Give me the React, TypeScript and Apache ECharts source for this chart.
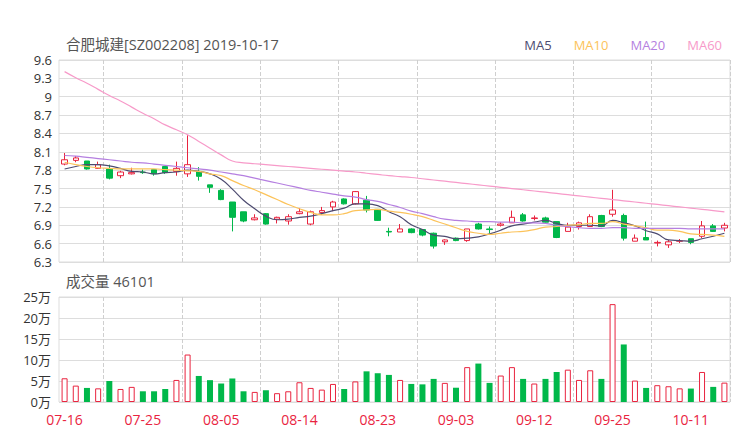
import React, { useEffect, useRef } from "react";
import * as echarts from "echarts";

const dates = [
  "07-16","07-17","07-18","07-19","07-22","07-23","07-24","07-25","07-26","07-29","07-30","07-31",
  "08-01","08-02","08-05","08-06","08-07","08-08","08-09","08-12","08-13","08-14","08-15","08-16",
  "08-19","08-20","08-21","08-22","08-23","08-26","08-27","08-28","08-29","08-30",
  "09-02","09-03","09-04","09-05","09-06","09-09","09-10","09-11","09-12","09-17","09-18","09-19",
  "09-20","09-23","09-24","09-25","09-26","09-27","09-30",
  "10-08","10-09","10-10","10-11","10-15","10-16","10-17",
];

const opens = [
  7.90,7.96,7.95,7.83,7.82,7.71,7.74,7.77,7.81,7.86,7.78,7.74,7.78,7.56,7.47,7.28,7.12,6.99,7.09,7.00,
  6.97,7.09,6.92,7.11,7.20,7.33,7.25,7.31,7.16,6.80,6.79,6.84,6.83,6.77,6.63,6.69,6.65,6.92,6.84,6.90,
  6.94,7.07,7.01,7.02,6.96,6.80,6.88,6.88,7.06,7.08,7.06,6.64,6.70,6.61,6.58,6.64,6.68,6.72,6.89,6.855,
];
const closes = [
  7.97,8.00,7.82,7.89,7.67,7.77,7.76,7.76,7.74,7.76,7.83,7.89,7.70,7.52,7.32,7.03,6.97,7.02,6.92,7.03,
  7.04,7.12,7.12,7.14,7.28,7.25,7.45,7.15,6.98,6.79,6.84,6.78,6.74,6.56,6.66,6.65,6.84,6.84,6.83,6.92,
  7.03,6.97,7.02,6.95,6.70,6.87,6.94,7.04,6.88,7.15,6.69,6.69,6.66,6.62,6.63,6.645,6.62,6.89,6.80,6.90,
];
const lows = [
  7.88,7.93,7.81,7.82,7.65,7.67,7.73,7.74,7.71,7.74,7.71,7.69,7.63,7.43,7.31,6.80,6.95,6.98,6.91,6.93,
  6.91,7.08,6.90,7.07,7.13,7.24,7.24,7.11,6.97,6.72,6.79,6.77,6.72,6.52,6.58,6.64,6.63,6.83,6.77,6.88,
  6.94,6.96,6.98,6.94,6.69,6.80,6.83,6.88,6.87,7.04,6.65,6.64,6.66,6.555,6.53,6.61,6.59,6.69,6.79,6.80,
];
const highs = [
  8.08,8.03,7.95,7.94,7.89,7.79,7.84,7.81,7.82,7.87,7.94,8.37,7.85,7.56,7.49,7.28,7.12,7.08,7.10,7.04,
  7.08,7.18,7.14,7.20,7.30,7.34,7.46,7.38,7.16,6.86,6.92,6.85,6.83,6.78,6.67,6.70,6.84,6.94,6.88,6.95,
  7.14,7.10,7.06,7.04,6.96,6.94,6.96,7.08,7.07,7.48,7.09,6.75,6.96,6.65,6.66,6.675,6.68,6.97,6.92,6.94,
];

const volumes = [
  56500,39000,33500,32500,50000,31000,36000,25500,25500,31000,52500,113000,62000,52000,44000,56000,
  25500,24000,28000,21000,25500,47000,33500,29500,43000,31000,49000,73000,68500,64500,52500,43000,
  42000,55000,45500,34000,83000,91500,45500,63000,83000,55000,44000,55000,71500,77000,52500,75500,
  55000,233000,137000,51000,33500,40000,37500,32500,32000,71500,36000,46101,
];

const ma5 = [
  7.82,7.86,7.89,7.89,7.87,7.83,7.78,7.77,7.74,7.76,7.77,7.80,7.78,7.74,7.65,7.49,7.31,7.17,7.05,6.99,
  7.00,7.03,7.05,7.09,7.14,7.18,7.25,7.25,7.22,7.12,7.04,6.91,6.83,6.74,6.72,6.68,6.69,6.71,6.76,6.82,
  6.89,6.92,6.95,6.98,6.93,6.90,6.90,6.90,6.89,6.98,6.94,6.89,6.81,6.76,6.66,6.65,6.64,6.68,6.72,6.77,
];
const ma10 = [
  7.93,7.89,7.86,7.84,7.83,7.82,7.82,7.82,7.82,7.81,7.80,7.79,7.78,7.74,7.71,7.63,7.55,7.48,7.40,7.32,
  7.24,7.17,7.11,7.07,7.07,7.09,7.14,7.15,7.16,7.13,7.11,7.08,7.04,6.98,6.92,6.86,6.80,6.77,6.75,6.77,
  6.79,6.80,6.83,6.87,6.88,6.90,6.91,6.93,6.93,6.96,6.92,6.89,6.86,6.82,6.82,6.80,6.76,6.75,6.74,6.72,
];
const ma20 = [
  8.04,8.03,8.01,7.99,7.97,7.95,7.93,7.92,7.90,7.88,7.86,7.84,7.82,7.80,7.77,7.74,7.71,7.67,7.63,7.59,
  7.55,7.51,7.47,7.44,7.41,7.38,7.36,7.32,7.29,7.24,7.19,7.13,7.09,7.04,7.00,6.98,6.97,6.96,6.96,6.95,
  6.95,6.94,6.94,6.93,6.90,6.88,6.86,6.85,6.85,6.86,6.86,6.85,6.85,6.85,6.85,6.85,6.84,6.84,6.84,6.84,
];
const ma60 = [
  9.41,9.31,9.22,9.12,9.02,8.93,8.83,8.73,8.64,8.54,8.46,8.38,8.27,8.16,8.05,7.95,7.92,7.905,7.89,7.875,
  7.86,7.845,7.83,7.815,7.80,7.785,7.77,7.75,7.73,7.71,7.695,7.68,7.66,7.64,7.62,7.60,7.58,7.56,7.54,7.52,
  7.50,7.48,7.46,7.44,7.42,7.40,7.38,7.36,7.34,7.32,7.30,7.28,7.26,7.24,7.22,7.20,7.18,7.16,7.14,7.12,
];

const maNames = ["MA5", "MA10", "MA20", "MA60"];
const maColors = ["#4d4b70", "#fcc35a", "#b57fe0", "#f79ac9"];
const maData = [ma5, ma10, ma20, ma60];

const RED = "#e9243f";
const GREEN = "#00b84a";
const FONT = "'Open Sans', 'Noto Sans CJK SC', sans-serif";

export default function App() {
  const ref = useRef<HTMLDivElement>(null);
  useEffect(() => {
    if (!ref.current) return;
    const chart = echarts.init(ref.current, undefined, { renderer: "svg" });
    const candleData = opens.map((o, i) => [o, closes[i], lows[i], highs[i]]);
    const volData = volumes.map((v, i) => {
      const up = closes[i] >= opens[i];
      return {
        value: v,
        itemStyle: up
          ? { color: "#fff", borderColor: RED, borderWidth: 1 }
          : { color: GREEN, borderColor: GREEN, borderWidth: 0 },
      };
    });
    const splitX = {
      show: true,
      interval: (i: number) => i % 7 === 4,
      lineStyle: { type: "dashed", color: "#cfcfcf", width: 1 },
    };
    const option: any = {
      animation: false,
      backgroundColor: "#fff",
      textStyle: { fontFamily: FONT },
      title: [
        {
          text: "合肥城建[SZ002208] 2019-10-17",
          left: 66,
          top: 37,
          padding: 0,
          textStyle: { fontSize: 14.5, fontWeight: "normal", color: "#555", fontFamily: FONT },
        },
        {
          text: "成交量 " + volumes[volumes.length - 1],
          left: 66,
          top: 274,
          padding: 0,
          textStyle: { fontSize: 14.5, fontWeight: "normal", color: "#555", fontFamily: FONT },
        },
      ],
      legend: {
        top: 38,
        right: 18,
        icon: "none",
        itemWidth: 0,
        itemHeight: 0,
        itemGap: 17,
        padding: 0,
        selectedMode: false,
        textStyle: { fontSize: 13, fontFamily: FONT },
        data: maNames.map((n, i) => ({ name: n, textStyle: { color: maColors[i] } })),
      },
      grid: [
        { left: 59, right: 10, top: 60, height: 202, show: true, borderColor: "#ddd", borderWidth: 1 },
        { left: 59, right: 10, top: 297, height: 105, show: true, borderColor: "#ddd", borderWidth: 1 },
      ],
      xAxis: [
        {
          type: "category",
          gridIndex: 0,
          data: dates,
          boundaryGap: true,
          axisLine: { show: false },
          axisTick: { show: false },
          axisLabel: { show: false },
          splitLine: splitX,
        },
        {
          type: "category",
          gridIndex: 1,
          data: dates,
          boundaryGap: true,
          axisLine: { show: false },
          axisTick: { show: false },
          axisLabel: { interval: 6, color: RED, fontSize: 14, margin: 10, fontFamily: FONT },
          splitLine: splitX,
        },
      ],
      yAxis: [
        {
          type: "value",
          gridIndex: 0,
          min: 6.3,
          max: 9.6,
          interval: 0.3,
          axisLine: { show: false },
          axisTick: { show: false },
          axisLabel: { color: "#333", fontSize: 13, margin: 7, fontFamily: FONT },
          splitLine: { lineStyle: { color: "#ddd" } },
        },
        {
          type: "value",
          gridIndex: 1,
          min: 0,
          max: 250000,
          interval: 50000,
          axisLine: { show: false },
          axisTick: { show: false },
          axisLabel: {
            color: "#333",
            fontSize: 13,
            margin: 8,
            fontFamily: FONT,
            formatter: (v: number) => v / 10000 + "万",
          },
          splitLine: { lineStyle: { color: "#ddd" } },
        },
      ],
      series: [
        {
          type: "candlestick",
          name: "K",
          xAxisIndex: 0,
          yAxisIndex: 0,
          data: candleData,
          barWidth: 6,
          itemStyle: {
            color: "#fff",
            color0: GREEN,
            borderColor: RED,
            borderColor0: GREEN,
            borderWidth: 1,
          },
        },
        ...maNames.map((n, i) => ({
          type: "line",
          name: n,
          xAxisIndex: 0,
          yAxisIndex: 0,
          data: maData[i],
          smooth: true,
          showSymbol: false,
          symbol: "none",
          lineStyle: { color: maColors[i], width: 1.2 },
          itemStyle: { color: maColors[i] },
        })),
        {
          type: "bar",
          name: "VOL",
          xAxisIndex: 1,
          yAxisIndex: 1,
          data: volData,
          barWidth: 6,
        },
      ],
    };
    chart.setOption(option);
    return () => chart.dispose();
  }, []);
  return (
    <div
      ref={ref}
      style={{ position: "absolute", left: 0, top: 0, width: 740, height: 440 }}
    />
  );
}
